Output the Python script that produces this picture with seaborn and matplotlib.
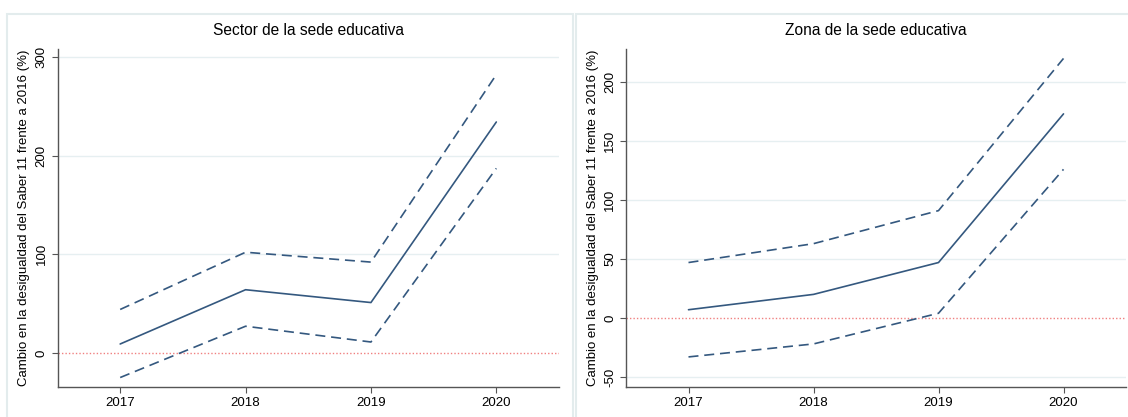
import matplotlib
matplotlib.use("Agg")
import matplotlib.pyplot as plt
import seaborn as sns
import pandas as pd
from matplotlib.patches import Rectangle

# Datos
anios = [2017, 2018, 2019, 2020]

sector_coef = [9, 64, 51, 234]
sector_sup = [44, 102, 92, 282]
sector_inf = [-25, 27, 11, 187]

zona_coef = [7, 20, 47, 173]
zona_sup = [47, 63, 91, 220]
zona_inf = [-33, -22, 4, 126]

titulos = ["Sector de la sede educativa", "Zona de la sede educativa"]
ylabel = "Cambio en la desigualdad del Saber 11 frente a 2016 (%)"
yticks_sector = [0, 100, 200, 300]
yticks_zona = [-50, 0, 50, 100, 150, 200]

sns.set_style("white")
plt.rcParams['font.family'] = ['Liberation Sans', 'DejaVu Sans']

color = "#34587f"
grid_c = "#e6eff1"

fig = plt.figure(figsize=(11.28, 4.17), dpi=100)

# marcos de cada panel (estilo Stata)
fig.patches.append(Rectangle((7 / 1128, -0.05), (573 - 7) / 1128, 1 - 14 / 417 + 0.05,
                             transform=fig.transFigure, fill=False,
                             edgecolor="#e3eced", linewidth=1.5))
fig.patches.append(Rectangle((576 / 1128, -0.05), 0.6, 1 - 14 / 417 + 0.05,
                             transform=fig.transFigure, fill=False,
                             edgecolor="#e3eced", linewidth=1.5))

ax1 = fig.add_axes([57.5 / 1128, 1 - 387 / 417, (559 - 57.5) / 1128, 338 / 417])
ax2 = fig.add_axes([626 / 1128, 1 - 387 / 417, 500 / 1128, 338 / 417])

paneles = [
    (ax1, sector_coef, sector_sup, sector_inf, yticks_sector, (-34.6, 308)),
    (ax2, zona_coef, zona_sup, zona_inf, yticks_zona, (-58.5, 228)),
]

for (ax, coef, sup, inf, yt, ylim), titulo in zip(paneles, titulos):
    df = pd.DataFrame({"anio": anios, "coef": coef, "sup": sup, "inf": inf})
    for v in yt:
        if v != 0:
            ax.axhline(v, color=grid_c, linewidth=1.0, zorder=0)
    ax.axhline(0, color="#f08080", linewidth=1.0, linestyle=(0, (1, 1.5)), zorder=1)
    sns.lineplot(data=df, x="anio", y="coef", ax=ax, color=color, linewidth=1.2)
    sns.lineplot(data=df, x="anio", y="sup", ax=ax, color=color, linewidth=1.2,
                 linestyle=(0, (6, 3.5)))
    sns.lineplot(data=df, x="anio", y="inf", ax=ax, color=color, linewidth=1.2,
                 linestyle=(0, (6, 3.5)))
    ax.set_xlim(2016.5, 2020.5)
    ax.set_ylim(*ylim)
    ax.set_xticks(anios)
    ax.set_xticklabels([str(a) for a in anios], fontsize=9.5, color="black")
    ax.set_yticks(yt)
    ax.set_yticklabels([str(v) for v in yt], fontsize=9.5, rotation=90, va="center",
                       color="black")
    ax.set_xlabel("")
    ax.set_ylabel(ylabel, fontsize=9.5, labelpad=4, color="black")
    ax.set_title(titulo, fontsize=11.2, pad=10, color="black")
    for s in ["top", "right"]:
        ax.spines[s].set_visible(False)
    for s in ["left", "bottom"]:
        ax.spines[s].set_color("#555555")
        ax.spines[s].set_linewidth(1.0)
    ax.tick_params(axis="both", direction="out", length=4, color="#555555",
                   width=0.8, bottom=True, left=True, pad=3)
    ax.set_facecolor("white")

fig.savefig("out.png", dpi=100, facecolor="white")
